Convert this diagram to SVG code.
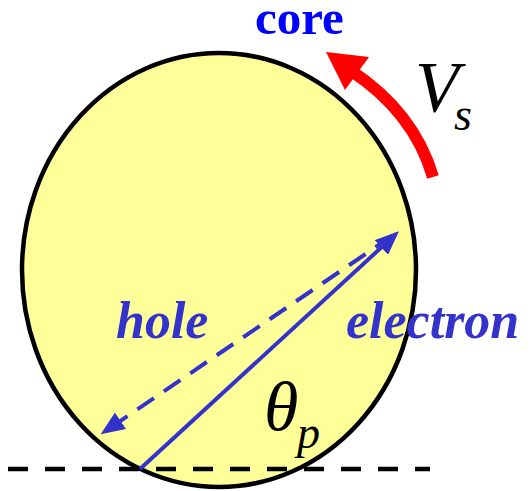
<svg xmlns="http://www.w3.org/2000/svg" width="531" height="491" viewBox="0 0 531 491">
<style>
.blue{stroke:#3333CC;stroke-width:4;fill:none}
.lbl{font-family:"Liberation Serif",serif;font-style:italic;font-weight:bold;fill:#3333CC;font-size:52px}
.math{font-family:"Liberation Serif",serif;font-style:italic;fill:#000}
</style>
<defs>
<marker id="ah" markerWidth="6" markerHeight="5" refX="5" refY="2.5" orient="auto" markerUnits="strokeWidth">
<path d="M0,0 L6,2.5 L0,5 z" fill="#3333CC"/>
</marker>
</defs>
<g id="core-circle">
<ellipse cx="219" cy="270" rx="197" ry="217" fill="#FFFF99" stroke="#000" stroke-width="4.5"/>
</g>
<g id="baseline">
<line x1="8" y1="469" x2="430" y2="469" stroke="#000" stroke-width="4.5" stroke-dasharray="20 17"/>
</g>
<g id="connectors">
<line class="blue" x1="140" y1="469" x2="396" y2="234" marker-end="url(#ah)"/>
<line class="blue" x1="392" y1="236" x2="104" y2="432" stroke-dasharray="20 12" marker-end="url(#ah)"/>
</g>
<g id="vs-arrow">
<path d="M433 177 Q414 112 350 70" stroke="#FF0000" stroke-width="12" fill="none"/>
<polygon points="326,52 369,57 345,90" fill="#FF0000"/>
</g>
<g id="labels">
<text x="255" y="34" font-family="Liberation Serif,serif" font-weight="bold" font-size="49" fill="#0000FF">core</text>
<text class="math" x="415" y="111" font-size="72">V</text>
<text class="math" x="454" y="130" font-size="46">s</text>
<text class="lbl" x="116" y="338">hole</text>
<text class="lbl" x="346" y="338">electron</text>
<text class="math" x="264" y="430" font-size="70">θ</text>
<text class="math" x="297" y="448" font-size="46">p</text>
</g>
</svg>
